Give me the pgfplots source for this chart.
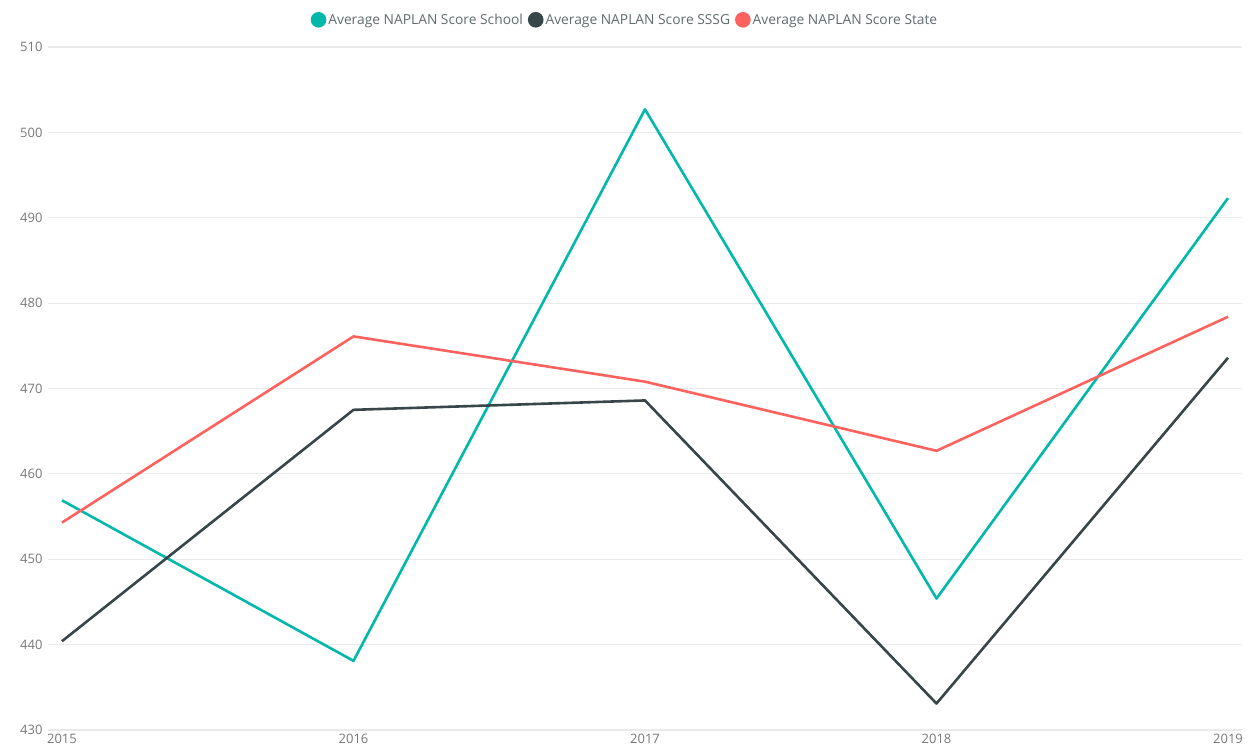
\documentclass[border=0pt]{standalone}
\usepackage{pgfplots}
\pgfplotsset{compat=1.18}
\usepackage{fontspec}
\setmainfont{Open Sans}
\definecolor{cSchool}{HTML}{01B8AA}
\definecolor{cSSSG}{HTML}{374649}
\definecolor{cState}{HTML}{FD625E}
\definecolor{gridc}{HTML}{EAEAEA}
\definecolor{tickc}{HTML}{777777}
\begin{document}
\begin{tikzpicture}
\useasboundingbox (0,0) rectangle (1249pt,754pt);
\begin{axis}[
  at={(48pt,24pt)}, anchor=south west,
  scale only axis, width=1194pt, height=683pt,
  xmin=2014.952, xmax=2019.048,
  ymin=430, ymax=510,
  xtick={2015,2016,2017,2018,2019},
  ytick={430,440,...,510},
  axis line style={draw=none},
  major tick length=0pt,
  ymajorgrids, grid style={gridc, line width=1.2pt},
  tick label style={font=\fontsize{13}{15}\selectfont, text=tickc},
  /pgf/number format/1000 sep={},
  /pgf/number format/assume math mode=true,
  xticklabel style={yshift=-1pt},
  yticklabel style={xshift=-2pt},
  legend style={at={(0.5,1)}, anchor=south, yshift=17pt, xshift=-20pt, draw=none, fill=none,
    font=\fontsize{13.8}{16}\selectfont, text=cSSSG!80, legend columns=3,
    /tikz/every even column/.append style={column sep=3pt}},
  legend image code/.code={\fill[#1] (3pt,0pt) circle (6.5pt);},
  every axis plot/.append style={line width=2.6pt, line join=round},
]
\addplot[color=cSchool] coordinates {(2015,456.9) (2016,438.1) (2017,502.7) (2018,445.4) (2019,492.3)};
\addlegendentry{Average NAPLAN Score School}
\addplot[color=cSSSG] coordinates {(2015,440.4) (2016,467.5) (2017,468.6) (2018,433.1) (2019,473.6)};
\addlegendentry{Average NAPLAN Score SSSG}
\addplot[color=cState] coordinates {(2015,454.3) (2016,476.1) (2017,470.8) (2018,462.7) (2019,478.4)};
\addlegendentry{Average NAPLAN Score State}
\end{axis}
\end{tikzpicture}
\end{document}
